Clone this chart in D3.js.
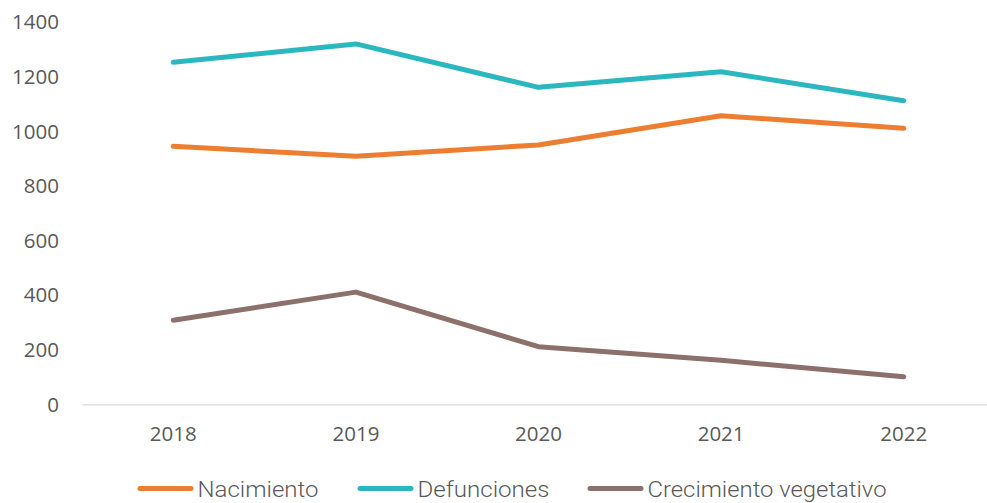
<!DOCTYPE html>
<html><head><meta charset="utf-8">
<script src="https://cdn.jsdelivr.net/npm/d3@7"></script>
<style>body{margin:0;background:#fff}svg{display:block}</style>
</head><body>
<svg id="c" width="987" height="503"></svg>
<script>
const years = ["2018","2019","2020","2021","2022"];
const nacimiento = [945, 909, 950, 1057, 1011];
const defunciones = [1253, 1320, 1161, 1218, 1112];
const crecimiento = [308, 411, 211, 161, 101];
const yTicks = [0,200,400,600,800,1000,1200,1400];
const seriesNames = ["Nacimiento","Defunciones","Crecimiento vegetativo"];
const colors = ["#ED7D31","#2BB7BF","#8B706B"];

const svg = d3.select("#c");
const x = d3.scaleBand().domain(years).range([82, 995]);
const y = d3.scaleLinear().domain([0,1400]).range([404.3, 22.1]);

// y tick labels
svg.append("g").selectAll("text").data(yTicks).join("text")
  .attr("x", 59).attr("y", d => y(d)).attr("dy","0.36em")
  .attr("text-anchor","end").attr("fill","#595959")
  .attr("font-family","'Open Sans', sans-serif").attr("font-size",20.5)
  .text(d => d);

// x axis
const xAxis = d3.axisBottom(x).tickSize(0).tickPadding(22);
const gx = svg.append("g").attr("transform","translate(0,404.3)").call(xAxis);
gx.select(".domain").attr("stroke","#d9d9d9").attr("stroke-width",1.2);
gx.selectAll("text").attr("fill","#595959").attr("font-family","'Open Sans', sans-serif").attr("font-size",20.5);

const line = d3.line().x((d,i) => x(years[i]) + x.bandwidth()/2).y(d => y(d));
const data = [nacimiento, defunciones, crecimiento];
svg.append("g").selectAll("path").data(data).join("path")
  .attr("d", line).attr("fill","none")
  .attr("stroke",(d,i)=>colors[i]).attr("stroke-width",5)
  .attr("stroke-linecap","round").attr("stroke-linejoin","round");

// legend
const legX = [140, 360, 590];
const textW = [121, 132, 239];
const lg = svg.append("g").selectAll("g").data(seriesNames).join("g")
  .attr("transform",(d,i)=>`translate(${legX[i]},488.5)`);
lg.append("line").attr("x1",0).attr("x2",51).attr("y1",0).attr("y2",0)
  .attr("stroke",(d,i)=>colors[i]).attr("stroke-width",5).attr("stroke-linecap","round");
lg.append("text").attr("x",57.5).attr("y",0).attr("dy","0.36em")
  .attr("fill","#595959").attr("font-family","Roboto, 'Open Sans', sans-serif")
  .attr("font-weight",300)
  .attr("font-size",22.5)
  .attr("textLength",(d,i)=>textW[i]).attr("lengthAdjust","spacingAndGlyphs")
  .text(d=>d);
</script>
</body></html>
